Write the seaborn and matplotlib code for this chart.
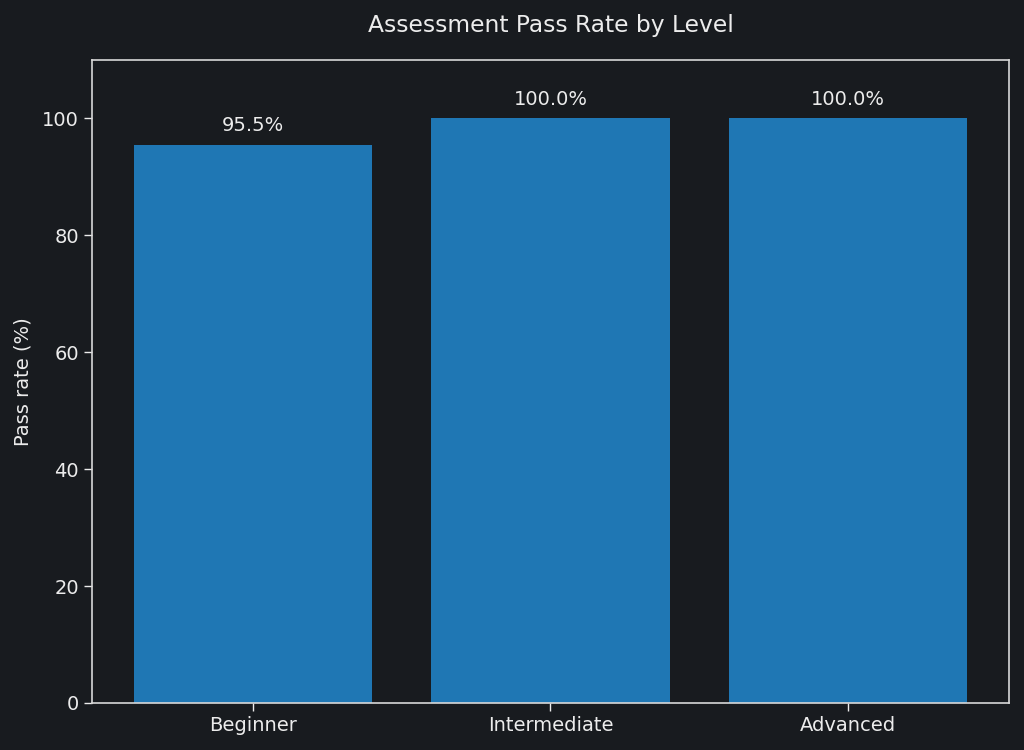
import matplotlib
matplotlib.use("Agg")
import matplotlib.pyplot as plt
import seaborn as sns
import pandas as pd

levels = ["Beginner", "Intermediate", "Advanced"]
pass_rates = [95.5, 100.0, 100.0]

bg = "#181b1f"
fg = "#ececec"

sns.set_theme(style="dark")
plt.rcParams['font.family'] = ['DejaVu Sans']

fig = plt.figure(figsize=(10.24, 7.5), dpi=100, facecolor=bg)
ax = fig.add_axes([0.0898, 0.0627, 0.8955, 0.8573])
ax.set_facecolor(bg)

df = pd.DataFrame({"level": levels, "rate": pass_rates})
sns.barplot(data=df, x="level", y="rate", color="#1f77b4", saturation=1, width=0.8,
            linewidth=0, edgecolor="none", ax=ax)

for p, v in zip(ax.patches, pass_rates):
    ax.annotate(f"{v:.1f}%", (p.get_x() + p.get_width() / 2, p.get_height()),
                xytext=(0, 7), textcoords="offset points", ha="center", va="bottom",
                color=fg, fontsize=14)

ax.set_ylim(0, 110)
ax.set_xlim(-0.54, 2.54)
ax.set_title("Assessment Pass Rate by Level", color=fg, fontsize=16.8, pad=20)
ax.set_xlabel("")
ax.set_ylabel("Pass rate (%)", color=fg, fontsize=14, labelpad=7)
ax.tick_params(colors=fg, labelsize=14, length=6, width=1, left=True, bottom=True)
ax.grid(False)
for s in ax.spines.values():
    s.set_color("#d8d8d8")
    s.set_linewidth(1.2)
    s.set_visible(True)

fig.savefig("out.png", dpi=100, facecolor=bg)
